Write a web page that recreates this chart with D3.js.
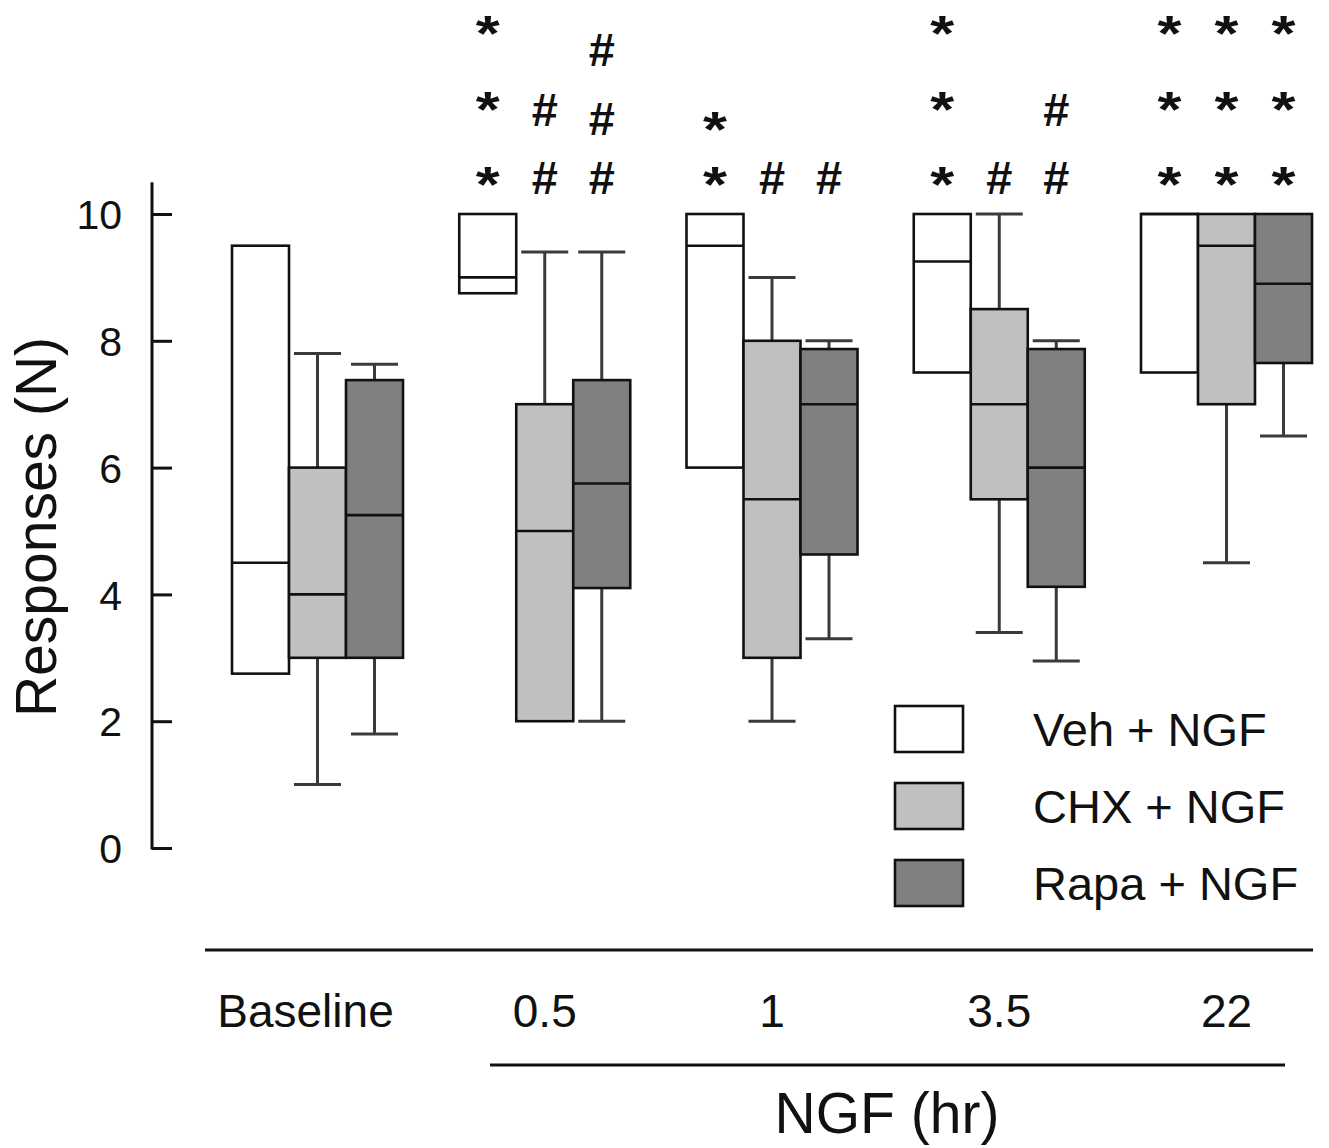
<!DOCTYPE html>
<html>
<head>
<meta charset="utf-8">
<script src="https://cdn.jsdelivr.net/npm/d3@7"></script>
<style>
  body { margin: 0; background: #fff; }
  text { font-family: "Liberation Sans", Arial, sans-serif; fill: #111; }
</style>
</head>
<body>
<div id="chart"></div>
<script>
// categories and series
var categories = ["Baseline", "0.5", "1", "3.5", "22"]
var series = ["Veh", "CHX", "Rapa"]
var seriesLabels = ["Veh + NGF", "CHX + NGF", "Rapa + NGF"]
var seriesFill = ["#ffffff", "#c0c0c0", "#808080"]

// [whisker low, q1, median, q3, whisker high] per category
var vehBox = [
  [2.75, 2.75, 4.5, 9.5, 9.5],
  [8.75, 8.75, 9.0, 10, 10],
  [6.0, 6.0, 9.5, 10, 10],
  [7.5, 7.5, 9.25, 10, 10],
  [7.5, 7.5, 10, 10, 10]
]
var chxBox = [
  [1.0, 3.0, 4.0, 6.0, 7.8],
  [2.0, 2.0, 5.0, 7.0, 9.4],
  [2.0, 3.0, 5.5, 8.0, 9.0],
  [3.4, 5.5, 7.0, 8.5, 10],
  [4.5, 7.0, 9.5, 10, 10]
]
var rapaBox = [
  [1.8, 3.0, 5.25, 7.38, 7.63],
  [2.0, 4.1, 5.75, 7.38, 9.4],
  [3.3, 4.63, 7.0, 7.87, 8.0],
  [2.95, 4.12, 6.0, 7.87, 8.0],
  [6.5, 7.65, 8.9, 10, 10]
]

var yTicks = [0, 2, 4, 6, 8, 10]

// significance marks: [category, series, symbol, levels (response units)]
var marks = [
  ["0.5", "Veh", "*", [10.65, 11.83, 13.03]],
  ["0.5", "CHX", "#", [10.57, 11.64]],
  ["0.5", "Rapa", "#", [10.57, 11.51, 12.59]],
  ["1", "Veh", "*", [10.65, 11.51]],
  ["1", "CHX", "#", [10.57]],
  ["1", "Rapa", "#", [10.57]],
  ["3.5", "Veh", "*", [10.65, 11.83, 13.03]],
  ["3.5", "CHX", "#", [10.57]],
  ["3.5", "Rapa", "#", [10.57, 11.64]],
  ["22", "Veh", "*", [10.65, 11.83, 13.03]],
  ["22", "CHX", "*", [10.65, 11.83, 13.03]],
  ["22", "Rapa", "*", [10.65, 11.83, 13.03]]
]

var width = 1329,
    height = 1148

var svg = d3.select("#chart")
  .append("svg")
  .attr("width", width)
  .attr("height", height)

var y = d3.scaleLinear()
  .domain([0, 10])
  .range([848, 214])

var x = d3.scaleBand()
  .domain(categories)
  .range([232, 1312])
  .paddingInner(0.2475)
  .paddingOuter(0)

var xs = d3.scaleBand()
  .domain(series)
  .range([0, x.bandwidth()])

var boxes = []
var all = [vehBox, chxBox, rapaBox]
series.forEach(function(s, i){
  all[i].forEach(function(v, j){
    boxes.push({cat: categories[j], s: s, fill: seriesFill[i],
      lo: v[0], q1: v[1], med: v[2], q3: v[3], hi: v[4]})
  })
})

// y axis
var axisX = 152
var yAxis = d3.axisLeft(y)
  .tickValues(yTicks)
  .tickSizeInner(-20)
  .tickSizeOuter(0)
  .tickPadding(30)

var gy = svg.append("g")
  .attr("transform", "translate(" + axisX + ",0)")
  .call(yAxis)
gy.select(".domain").remove()
gy.selectAll(".tick line").attr("stroke", "#111").attr("stroke-width", 3)
gy.selectAll(".tick text")
  .attr("font-size", 41)
  .attr("fill", "#222")
  .attr("dy", "0.36em")
gy.append("line")
  .attr("x1", 0).attr("x2", 0)
  .attr("y1", y(10.5)).attr("y2", y(0) + 1.5)
  .attr("stroke", "#111")
  .attr("stroke-width", 3)

svg.append("text")
  .attr("transform", "translate(56," + 527 + ") rotate(-90)")
  .attr("text-anchor", "middle")
  .attr("font-size", 57)
  .text("Responses (N)")

// whiskers
var capW = 47
var bx = function(d){ return x(d.cat) + xs(d.s) }
var cx = function(d){ return x(d.cat) + xs(d.s) + xs.bandwidth() / 2 }

var wh = svg.append("g")
boxes.forEach(function(d){
  [[d.q3, d.hi], [d.q1, d.lo]].forEach(function(p){
    if (p[0] === p[1]) return
    wh.append("line")
      .attr("x1", cx(d)).attr("x2", cx(d))
      .attr("y1", y(p[0])).attr("y2", y(p[1]))
      .attr("stroke", "#3a3a3a").attr("stroke-width", 3)
    wh.append("line")
      .attr("x1", cx(d) - capW / 2).attr("x2", cx(d) + capW / 2)
      .attr("y1", y(p[1])).attr("y2", y(p[1]))
      .attr("stroke", "#3a3a3a").attr("stroke-width", 3)
  })
})

// boxes
var bg = svg.selectAll(".box")
  .data(boxes)
  .enter()
  .append("g")
  .attr("class", "box")

bg.append("rect")
  .attr("x", bx)
  .attr("y", function(d){ return y(d.q3) })
  .attr("width", xs.bandwidth())
  .attr("height", function(d){ return y(d.q1) - y(d.q3) })
  .attr("fill", function(d){ return d.fill })
  .attr("stroke", "#111")
  .attr("stroke-width", 2.6)

bg.append("line")
  .attr("x1", bx)
  .attr("x2", function(d){ return bx(d) + xs.bandwidth() })
  .attr("y1", function(d){ return y(d.med) })
  .attr("y2", function(d){ return y(d.med) })
  .attr("stroke", "#111")
  .attr("stroke-width", 2.6)

// significance marks
var mk = []
marks.forEach(function(m){
  m[3].forEach(function(lv){
    mk.push({cat: m[0], s: m[1], sym: m[2], lv: lv})
  })
})

var starSize = 50,
    hashSize = 47

var mt = svg.selectAll(".mark")
  .data(mk)
  .enter()
  .append("text")
  .attr("class", "mark")
  .attr("text-anchor", "middle")
  .attr("font-weight", "bold")
  .attr("x", cx)
  .attr("y", function(d){
    return d.sym === "*" ? y(d.lv) + 0.58 * starSize : y(d.lv) + 0.35 * hashSize
  })
  .attr("font-size", function(d){ return d.sym === "*" ? starSize : hashSize })
  .text(function(d){ return d.sym })

// stars in the figure are a little wider than the font's
mt.filter(function(d){ return d.sym === "*" })
  .attr("textLength", 24)
  .attr("lengthAdjust", "spacingAndGlyphs")

// x labels and bracket lines
svg.append("line")
  .attr("x1", 205).attr("x2", 1313)
  .attr("y1", 950).attr("y2", 950)
  .attr("stroke", "#111").attr("stroke-width", 3)

svg.selectAll(".xlab")
  .data(categories)
  .enter()
  .append("text")
  .attr("class", "xlab")
  .attr("x", function(d){ return x(d) + x.bandwidth() / 2 })
  .attr("dx", function(d, i){ return i === 0 ? -12 : 0 })
  .attr("y", 1027)
  .attr("text-anchor", "middle")
  .attr("font-size", 46)
  .text(function(d){ return d })

svg.append("line")
  .attr("x1", 490).attr("x2", 1285)
  .attr("y1", 1065).attr("y2", 1065)
  .attr("stroke", "#111").attr("stroke-width", 3)

svg.append("text")
  .attr("x", 887)
  .attr("y", 1133)
  .attr("text-anchor", "middle")
  .attr("font-size", 57)
  .text("NGF (hr)")

// legend
var lg = svg.selectAll(".legend")
  .data(series)
  .enter()
  .append("g")
  .attr("class", "legend")
  .attr("transform", function(d, i){ return "translate(895," + (706 + i * 77) + ")" })

lg.append("rect")
  .attr("width", 68)
  .attr("height", 46)
  .attr("fill", function(d, i){ return seriesFill[i] })
  .attr("stroke", "#111")
  .attr("stroke-width", 2.6)

lg.append("text")
  .attr("x", 138)
  .attr("y", 40)
  .attr("font-size", 47)
  .text(function(d, i){ return seriesLabels[i] })
</script>
</body>
</html>
